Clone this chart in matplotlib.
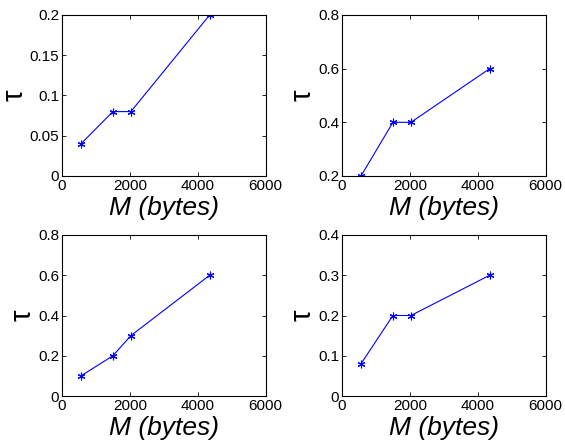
#!/usr/bin/env python3
import matplotlib
matplotlib.use('Agg')
import matplotlib.pyplot as plt

# message sizes (bytes), shared by all four panels
m_bytes = [560, 1500, 2030, 4350]

tau_top_left = [0.04, 0.08, 0.08, 0.2]
tau_top_right = [0.2, 0.4, 0.4, 0.6]
tau_bottom_left = [0.1, 0.2, 0.3, 0.6]
tau_bottom_right = [0.08, 0.2, 0.2, 0.3]

yticks_top_left = [0, 0.05, 0.1, 0.15, 0.2]
yticks_top_right = [0.2, 0.4, 0.6, 0.8]
yticks_bottom_left = [0, 0.2, 0.4, 0.6, 0.8]
yticks_bottom_right = [0, 0.1, 0.2, 0.3, 0.4]
xticks = [0, 2000, 4000, 6000]

plt.rcParams['font.family'] = ['Liberation Sans', 'DejaVu Sans']

fig = plt.figure(figsize=(5.65, 4.46), dpi=100)

panels = [
    ([0.1097, 0.6054, 0.3605, 0.361], tau_top_left, yticks_top_left),
    ([0.6053, 0.6054, 0.3605, 0.361], tau_top_right, yticks_top_right),
    ([0.1097, 0.1121, 0.3605, 0.361], tau_bottom_left, yticks_bottom_left),
    ([0.6053, 0.1121, 0.3605, 0.361], tau_bottom_right, yticks_bottom_right),
]

for rect, tau, yt in panels:
    ax = fig.add_axes(rect)
    # MATLAB style '*' marker: six-armed asterisk
    ax.plot(m_bytes, tau, color='blue', linewidth=0.8, marker=(6, 2, 0),
            markersize=5.5, markeredgewidth=0.8)
    ax.set_xlim(0, 6000)
    ax.set_ylim(yt[0], yt[-1])
    ax.set_xticks(xticks)
    ax.set_yticks(yt)
    ax.set_yticklabels([f'{v:g}' for v in yt])
    ax.tick_params(direction='in', length=3, width=0.6, top=True, right=True,
                   labelsize=11, pad=2)
    for s in ax.spines.values():
        s.set_linewidth(0.8)
    ax.set_xlabel('M (bytes)', fontsize=19, style='italic', labelpad=2)
    ax.set_ylabel('τ', fontsize=21, labelpad=1)

plt.savefig('out.png', dpi=100)
